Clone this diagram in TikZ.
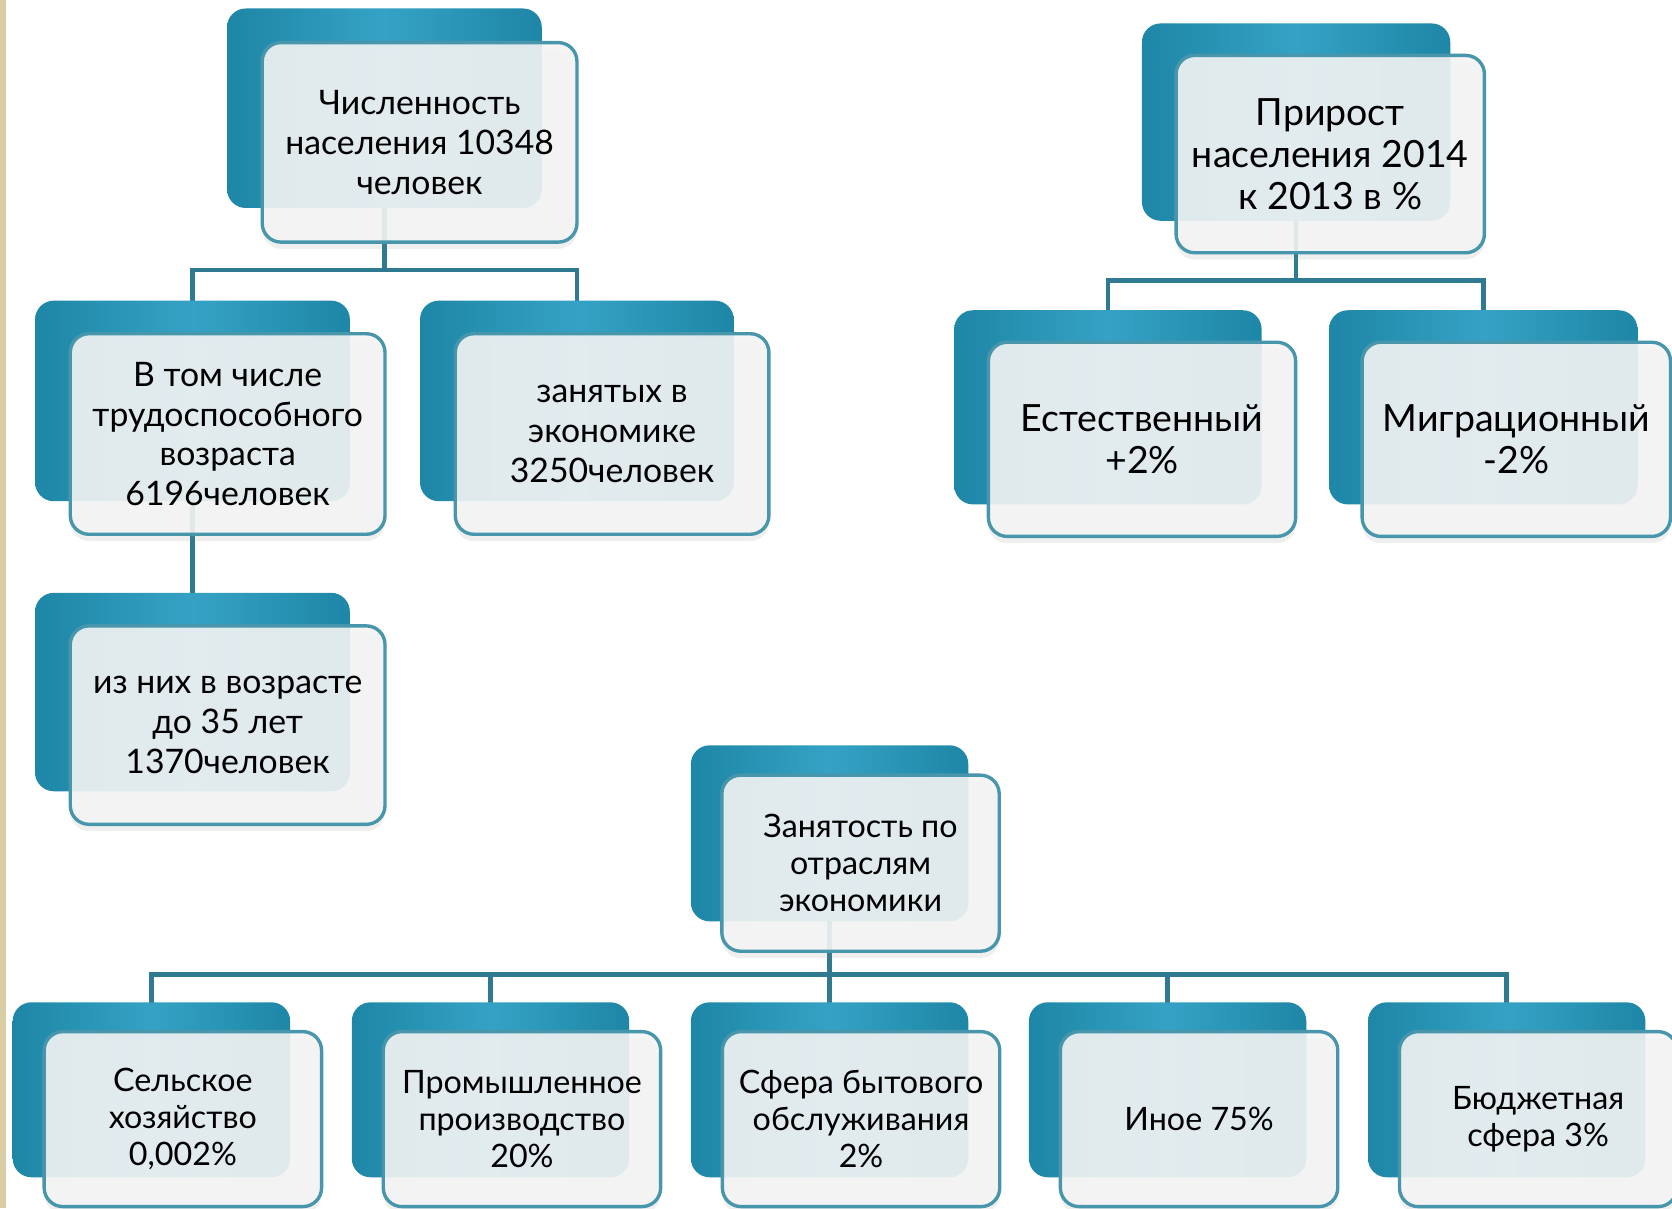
\documentclass[tikz,border=0pt]{standalone}
\usepackage{fontspec}
\setmainfont{Lato}
\usetikzlibrary{shadows,backgrounds,calc}
\definecolor{tealdark}{HTML}{1E86A6}
\definecolor{teallight}{HTML}{35A2C5}
\definecolor{conncol}{HTML}{2F7A90}
\definecolor{fborder}{HTML}{4896AC}
\definecolor{ffill}{HTML}{F4F4F4}
\definecolor{beige}{HTML}{D8CDA5}
\tikzset{
  backbox/.style={rounded corners=5pt, left color=tealdark, right color=tealdark, middle color=teallight, draw=none, inner sep=0pt},
  frontbox/.style={rounded corners=5pt, draw=fborder, line width=0.9pt, fill=ffill, fill opacity=0.9, text opacity=1, align=center, inner sep=0pt,
    drop shadow={shadow xshift=0pt, shadow yshift=-1.8pt, opacity=0.12}},
  conn/.style={draw=conncol, line width=1.2pt},
  txt/.style={font=\fontsize{9}{10.6}\selectfont},
  txtb/.style={font=\fontsize{10}{11.2}\selectfont},
  txts/.style={font=\fontsize{8.6}{9.9}\selectfont}
}
% #1 name, #2 cx, #3 cy, #4 w, #5 h, #6 dx, #7 dy, #8 style, #9 text
\newcommand\duo[9]{%
  \node[backbox, minimum width=#4cm, minimum height=#5cm] (b#1) at (#2,#3) {};
  \node[frontbox, #8, minimum width=#4cm, minimum height=#5cm] (f#1) at ($(b#1.center)+(#6,#7)$) {#9};
}
\begin{document}
\begin{tikzpicture}[x=0.01cm,y=-0.01cm]
\useasboundingbox (0,0) rectangle (1568,1133);

\duo{1}{360.5}{101.5}{2.95}{1.87}{33}{32}{txt}{Численность\\населения 10348\\человек}
\duo{2}{180.5}{376}{2.95}{1.88}{33}{31}{txt}{В том числе\\трудоспособного\\возраста\\6196человек}
\duo{3}{541}{376}{2.94}{1.88}{33}{31}{txt}{занятых в\\экономике\\3250человек}
\duo{4}{180.5}{649}{2.95}{1.86}{33}{31}{txt}{из них в возрасте\\до 35 лет\\1370человек}
\duo{5}{1215.5}{114.5}{2.89}{1.85}{32}{30}{txtb}{Прирост\\населения 2014\\к 2013 в \%}
\duo{6}{1039}{382}{2.88}{1.82}{32}{30}{txtb}{Естественный\\+2\%}
\duo{7}{1391}{382}{2.89}{1.82}{31}{30}{txtb}{Миграционный\\-2\%}
\duo{8}{778}{781.5}{2.60}{1.65}{29}{28}{txts}{Занятость по\\отраслям\\экономики}
\duo{9}{142}{1022}{2.60}{1.64}{29.5}{27.5}{txts}{Сельское\\хозяйство\\0,002\%}
\duo{10}{460}{1022}{2.60}{1.64}{29.5}{27.5}{txts}{Промышленное\\производство\\20\%}
\duo{11}{778}{1022}{2.60}{1.64}{29.5}{27.5}{txts}{Сфера бытового\\обслуживания\\2\%}
\duo{12}{1095}{1022}{2.60}{1.64}{29.5}{27.5}{txts}{Иное 75\%}
\duo{13}{1413}{1022}{2.60}{1.64}{29.5}{27.5}{txts}{Бюджетная\\сфера 3\%}

\coordinate (j1) at (360.5,253);
\coordinate (j2) at (1215.5,263);
\coordinate (j3) at (778,914);
\begin{scope}[on background layer]
  \fill[white] (0,0) rectangle (1568,1133);
  \fill[beige] (0,0) rectangle (6,1133);
  \draw[conn] (b1.center) -- (j1);
  \draw[conn] (b2.center) |- (j1) -| (b3.center);
  \draw[conn] (b2.center) -- (b4.center);
  \draw[conn] (b5.center) -- (j2);
  \draw[conn] (b6.center) |- (j2) -| (b7.center);
  \draw[conn] (b8.center) -- (j3);
  \draw[conn] (b9.center) |- (j3) -| (b13.center);
  \draw[conn] (b10.center) |- (j3);
  \draw[conn] (b12.center) |- (j3);
  \draw[conn] (j3) -- (b11.center);
\end{scope}
\end{tikzpicture}
\end{document}
